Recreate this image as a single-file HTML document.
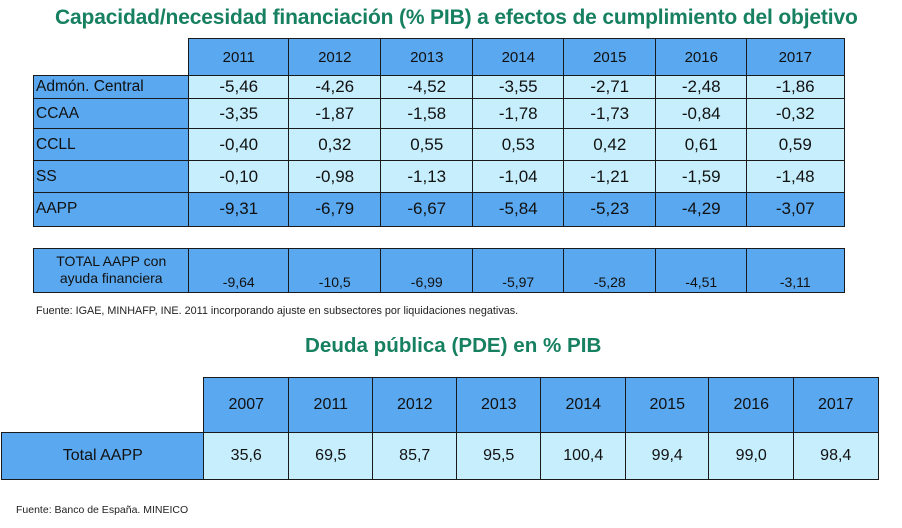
<!DOCTYPE html>
<html><head><meta charset="utf-8">
<style>
body{margin:0;width:902px;height:528px;background:#fff;position:relative;overflow:hidden;font-family:"Liberation Sans",Arial,sans-serif;}
.t{position:absolute;color:#178060;font-weight:bold;white-space:nowrap;}
.c{position:absolute;box-sizing:border-box;border:1.5px solid #1a1a1a;display:flex;align-items:center;justify-content:center;color:#111;}
.h{background:#5AA8EF;}
.l{background:#C6EEFC;}
.note{position:absolute;color:#222;white-space:nowrap;}
</style></head>
<body>
<div class="t" style="left:55px;top:6px;font-size:21px;letter-spacing:-0.15px;">Capacidad/necesidad financiación (% PIB) a efectos de cumplimiento del objetivo</div>
<div id="t1"></div>
<div class="note" style="left:36px;top:305px;font-size:10.8px;">Fuente: IGAE, MINHAFP, INE. 2011 incorporando ajuste en subsectores por liquidaciones negativas.</div>
<div class="t" style="left:305px;top:334px;font-size:20.6px;">Deuda pública (PDE) en % PIB</div>
<div id="t2"></div>
<div class="note" style="left:16px;top:504px;font-size:10.5px;">Fuente: Banco de España. MINEICO</div>
<script>
const years1=["2011","2012","2013","2014","2015","2016","2017"];
const rowLabels=["Admón. Central","CCAA","CCLL","SS","AAPP"];
const rowValues=[
["-5,46","-4,26","-4,52","-3,55","-2,71","-2,48","-1,86"],
["-3,35","-1,87","-1,58","-1,78","-1,73","-0,84","-0,32"],
["-0,40","0,32","0,55","0,53","0,42","0,61","0,59"],
["-0,10","-0,98","-1,13","-1,04","-1,21","-1,59","-1,48"],
["-9,31","-6,79","-6,67","-5,84","-5,23","-4,29","-3,07"]];
const totalValues=["-9,64","-10,5","-6,99","-5,97","-5,28","-4,51","-3,11"];
const years2=["2007","2011","2012","2013","2014","2015","2016","2017"];
const debtValues=["35,6","69,5","85,7","95,5","100,4","99,4","99,0","98,4"];

function cell(x,y,w,h,cls,txt,fs,extra){
  const d=document.createElement('div');
  d.className='c '+cls;
  d.style.cssText=`left:${x}px;top:${y}px;width:${w+1.5}px;height:${h+1.5}px;font-size:${fs}px;`+(extra||'');
  d.innerHTML=txt;
  
  
  document.body.appendChild(d);
  return d;
}
const cx1=[188,288,380,472,563,655,746,843];
const ry1=[75,98,128,160,192,225];
years1.forEach((y,i)=>cell(cx1[i],38,cx1[i+1]-cx1[i],37,'h',y,15));
rowLabels.forEach((lab,r)=>{
  const h=ry1[r+1]-ry1[r];
  const isA=r===4;
  cell(33,ry1[r],155,h,'h',lab,15.5,'justify-content:flex-start;padding-left:2px;');
  rowValues[r].forEach((v,i)=>cell(cx1[i],ry1[r],cx1[i+1]-cx1[i],h,isA?'h':'l',v,17));
});
cell(33,248,155,43,'h','TOTAL AAPP con<br>ayuda financiera',14,'text-align:center;line-height:17px;');
totalValues.forEach((v,i)=>cell(cx1[i],248,cx1[i+1]-cx1[i],43,'h',v,14,'align-items:flex-end;padding-bottom:2px;'));

const cx2=[203,288,372,456,540,625,708,793,877];
years2.forEach((y,i)=>cell(cx2[i],377,cx2[i+1]-cx2[i],55,'h',y,16));
cell(1,432,202,46,'h','Total AAPP',16);
debtValues.forEach((v,i)=>cell(cx2[i],432,cx2[i+1]-cx2[i],46,'l',v,16));
</script>
</body></html>
